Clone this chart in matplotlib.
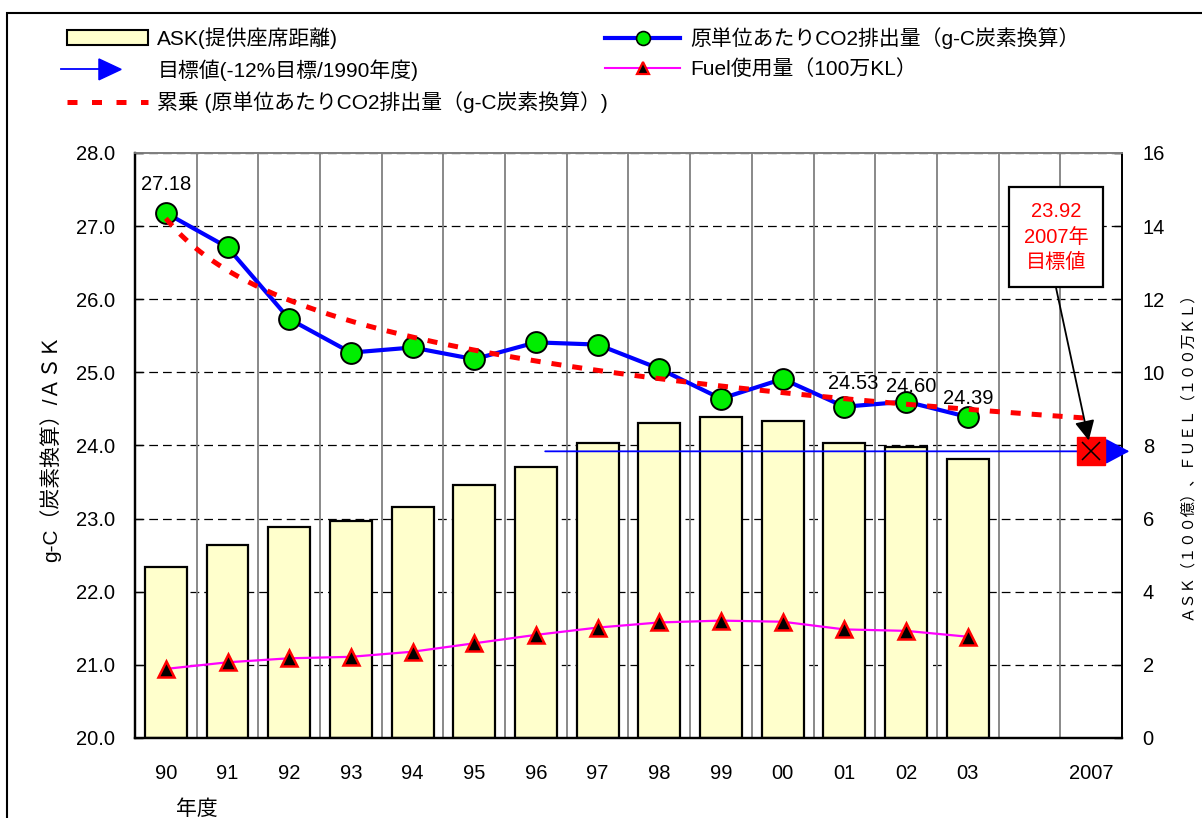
#CO2 per ASK (g-C) with ASK bars and fuel use, 1990-2003 and 2007 target
import numpy as np
import matplotlib.pyplot as plt
import matplotlib.patches as mpatches
from matplotlib.lines import Line2D
from matplotlib.legend_handler import HandlerBase

plt.rcParams['font.family'] = ['Liberation Sans', 'Noto Sans CJK JP']

#data
years = ['90', '91', '92', '93', '94', '95', '96', '97', '98', '99', '00', '01', '02', '03', '', '2007']
co2 = [27.18, 26.71, 25.73, 25.27, 25.34, 25.18, 25.41, 25.38, 25.05, 24.64, 24.91, 24.53, 24.60, 24.39]
ask = [4.68, 5.27, 5.76, 5.94, 6.31, 6.92, 7.40, 8.06, 8.61, 8.77, 8.66, 8.06, 7.95, 7.62]
fuel = [1.89, 2.07, 2.18, 2.22, 2.36, 2.59, 2.82, 3.02, 3.16, 3.21, 3.18, 2.97, 2.93, 2.77]
target = 23.92          # -12% of 1990
target_year = '2007'
labelled = ['90', '01', '02', '03']
label_offsets = {'90': (0.5, 20.5), '01': (6.5, 16.5), '02': (3.6, 11), '03': (0.4, 13.5)}

x = np.arange(len(years))
xi = x[:len(co2)]
t_idx = years.index(target_year)

#power trendline (Excel "累乗"), x = 1..n, forecast to the last slot
tx = np.arange(1, len(co2) + 1)
b, lna = np.polyfit(np.log(tx), np.log(co2), 1)
xs = np.linspace(1, len(years), 300)
ys = np.exp(lna) * xs**b

fig = plt.figure(figsize=(12.02, 8.18), dpi=100)
ax = fig.add_axes([0.1123, 0.0978, 0.8211, 0.7152])
ax2 = ax.twinx()
ax.set_zorder(2)
ax2.set_zorder(1)
ax.patch.set_visible(False)

#right axis: bars + fuel
ax2.set_axisbelow(True)
ax2.yaxis.grid(True, color='black', ls=(0, (7, 4)), lw=0.9)
for k in x[:-1] + 0.5:
    ax2.axvline(k, color='#808080', lw=1.3, zorder=0.6)
ax2.bar(xi, ask, width=0.68, color='#FFFFCC', edgecolor='black', lw=1.6, zorder=1)
ax2.plot(xi, fuel, color='magenta', lw=1.6, marker='^', ms=12, mfc='black', mec='red', mew=1.8, zorder=3)
ax2.set_ylim(0, 16)
ax2.set_yticks(range(0, 17, 2))

#left axis: CO2 per ASK
ax.plot(xi, co2, color='blue', lw=3, marker='o', ms=15, mfc='#00EE00', mec='black', mew=1.4, zorder=3)
ax.plot(xs - 1, ys, color='red', lw=3.6, ls=(0, (2.0, 2.2)), zorder=4)
for yr in labelled:
    i = years.index(yr)
    ax.annotate(f'{co2[i]:.2f}', (i, co2[i]), xytext=label_offsets[yr], textcoords='offset points',
                ha='center', va='center', fontsize=14.5, zorder=6)

#target arrow and marker
ax.annotate('', xy=(15.62, target), xytext=(6.15, target), annotation_clip=False,
            arrowprops=dict(arrowstyle='-|>,head_length=15,head_width=8', mutation_scale=1,
                            color='blue', lw=1.3, shrinkA=0, shrinkB=0), zorder=5)
ax.plot(t_idx, target, marker='s', ms=19.5, color='red', mec='red', zorder=6, clip_on=False)
ax.plot(t_idx, target, marker='x', ms=13, color='black', mew=1.1, zorder=7, clip_on=False)
ax.annotate(f'{target:.2f}\n{target_year}年\n目標値', xy=(t_idx, target), xytext=(14.43, 26.85),
            ha='center', va='center', color='red', fontsize=14.5, linespacing=1.45,
            bbox=dict(boxstyle='square,pad=0.75', fc='white', ec='black', lw=1.6),
            arrowprops=dict(arrowstyle='-|>,head_length=12,head_width=6', mutation_scale=1,
                            color='black', lw=1.3, relpos=(0.45, 0.0), shrinkA=0, shrinkB=8),
            zorder=8)

ax.set_xlim(-0.5, len(years) - 0.5)
ax.set_ylim(20, 28)
ax.set_yticks(np.arange(20, 28.5, 1))
ax.yaxis.set_major_formatter(plt.FormatStrFormatter('%.1f'))
ax.set_xticks(x)
ax.set_xticklabels(years)
ax.tick_params(axis='x', length=0, pad=19, labelsize=14.5)
ax.tick_params(axis='y', direction='in', length=6, width=1, pad=14.4, labelsize=14.5)
ax2.tick_params(axis='y', direction='in', length=6, width=1, pad=14.9, labelsize=14.5)
for a in (ax, ax2):
    a.spines['top'].set_color('#808080')
    a.spines['top'].set_linewidth(1.3)
    for s in ('left', 'bottom'):
        a.spines[s].set_linewidth(1.6)
    a.spines['right'].set_linewidth(1.3)

fig.text(50 / 1202, 1 - 448 / 818, 'g-C（炭素換算）/ＡＳＫ', rotation=90, ha='center', va='center', fontsize=15)
fig.text(1187 / 1202, 1 - 452 / 818, 'ＡＳＫ（１００億）、ＦＵＥＬ（１００万ＫＬ）', rotation=90,
         ha='center', va='center', fontsize=11)
fig.text(197 / 1202, 1 - 809 / 818, '年度', ha='center', va='center', fontsize=15)

#legend
class TargetArrow:
    pass

class HandlerTargetArrow(HandlerBase):
    def create_artists(self, legend, orig_handle, xdescent, ydescent, width, height, fontsize, trans):
        y = height / 2 - ydescent
        x0 = -xdescent - 4
        line = Line2D([x0, x0 + 28], [y, y], color='blue', lw=1.3, transform=trans)
        head = mpatches.Polygon([[x0 + 27, y - 7.5], [x0 + 43, y], [x0 + 27, y + 7.5]],
                                closed=True, color='blue', transform=trans)
        return [line, head]

h_ask = mpatches.Patch(fc='#FFFFCC', ec='black', lw=1.5)
h_trend = Line2D([], [], color='red', lw=3.6, ls=(0, (2.0, 2.9)))
h_co2 = Line2D([], [], color='blue', lw=3, marker='o', ms=10, mfc='#00EE00', mec='black', mew=1.2)
h_fuel = Line2D([], [], color='magenta', lw=1.5, marker='^', ms=9, mfc='black', mec='red', mew=1.6)

fig.legend([h_ask, TargetArrow(), h_trend],
           ['ASK(提供座席距離)', '目標値(-12%目標/1990年度)', '累乗 (原単位あたりCO2排出量（g-C炭素換算）)'],
           loc='upper left', bbox_to_anchor=(67 / 1202, 1 - 27 / 818), frameon=False, fontsize=15,
           handlelength=3.9, handletextpad=0.43, labelspacing=0.5, borderpad=0, borderaxespad=0,
           handler_map={TargetArrow: HandlerTargetArrow()})
fig.legend([h_co2, h_fuel], ['原単位あたりCO2排出量（g-C炭素換算）', 'Fuel使用量（100万KL）'],
           loc='upper left', bbox_to_anchor=(605 / 1202, 1 - 27 / 818), frameon=False, fontsize=15,
           handlelength=3.6, handletextpad=0.48, labelspacing=0.5, borderpad=0, borderaxespad=0)

#outer frame
fig.add_artist(mpatches.Rectangle((7 / 1202, -0.05), 1.1, 1 - 13 / 818 + 0.05, transform=fig.transFigure,
                                  fill=False, ec='black', lw=1.5))

fig.savefig('out.png', dpi=100)
